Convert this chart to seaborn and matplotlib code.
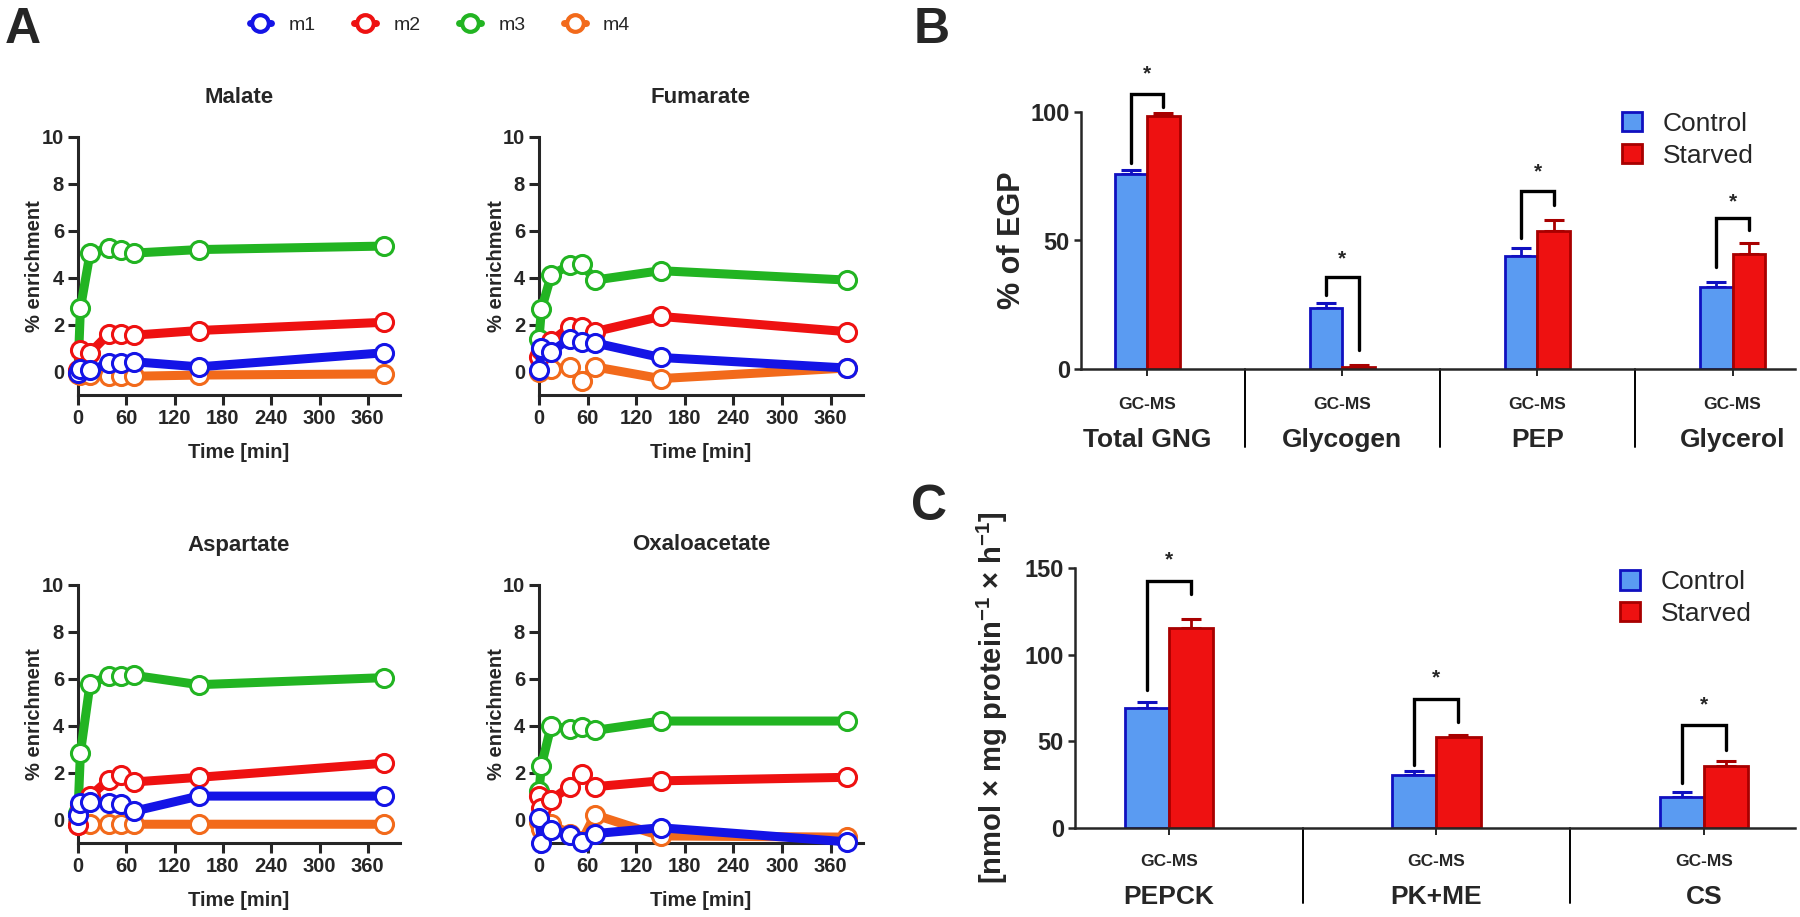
import numpy as np
import pandas as pd
import matplotlib
matplotlib.use('Agg')
import matplotlib.pyplot as plt
import matplotlib.transforms as mtransforms
from matplotlib.lines import Line2D
from matplotlib.patches import Patch
import seaborn as sns

sns.set_style('ticks')
plt.rcParams['font.family'] = ['Liberation Sans', 'DejaVu Sans']
plt.rcParams['font.weight'] = 'bold'
plt.rcParams['mathtext.fontset'] = 'custom'
plt.rcParams['mathtext.rm'] = 'Liberation Sans'
plt.rcParams['mathtext.bf'] = 'Liberation Sans:bold'

# ---------------- data: panel A ----------------
time_min = [0, 3, 15, 38, 53, 69, 150, 380]
isotopologues = ['m1', 'm2', 'm3', 'm4']

malate_m1 = [-0.05, 0.1, 0.05, 0.35, 0.35, 0.42, 0.2, 0.8]
malate_m2 = [0.05, 0.9, 0.8, 1.6, 1.6, 1.55, 1.75, 2.1]
malate_m3 = [0.0, 2.7, 5.05, 5.25, 5.2, 5.05, 5.2, 5.35]
malate_m4 = [-0.1, -0.15, -0.15, -0.2, -0.2, -0.2, -0.15, -0.1]

fumarate_m1 = [0.05, 1.0, 0.85, 1.4, 1.25, 1.22, 0.6, 0.15]
fumarate_m2 = [0.6, 0.9, 1.3, 1.9, 1.9, 1.7, 2.35, 1.7]
fumarate_m3 = [1.4, 2.65, 4.1, 4.55, 4.6, 3.9, 4.3, 3.9]
fumarate_m4 = [0.0, 0.05, 0.1, 0.2, -0.4, 0.2, -0.3, 0.15]

aspartate_m1 = [0.2, 0.7, 0.75, 0.7, 0.65, 0.35, 1.0, 1.0]
aspartate_m2 = [-0.25, 0.6, 1.0, 1.7, 1.9, 1.6, 1.8, 2.4]
aspartate_m3 = [0.3, 2.85, 5.8, 6.1, 6.1, 6.15, 5.75, 6.05]
aspartate_m4 = [-0.25, -0.2, -0.2, -0.2, -0.2, -0.2, -0.2, -0.2]

oxaloacetate_m1 = [0.05, -1.0, -0.45, -0.65, -0.95, -0.6, -0.35, -0.95]
oxaloacetate_m2 = [1.0, 0.5, 0.85, 1.4, 1.95, 1.4, 1.65, 1.8]
oxaloacetate_m3 = [1.2, 2.3, 4.0, 3.85, 3.95, 3.8, 4.2, 4.2]
oxaloacetate_m4 = [-0.1, -0.4, -0.2, -0.6, -0.9, 0.2, -0.7, -0.75]

metabolites = ['Malate', 'Fumarate', 'Aspartate', 'Oxaloacetate']
metabolite_series = {
    'Malate': [malate_m1, malate_m2, malate_m3, malate_m4],
    'Fumarate': [fumarate_m1, fumarate_m2, fumarate_m3, fumarate_m4],
    'Aspartate': [aspartate_m1, aspartate_m2, aspartate_m3, aspartate_m4],
    'Oxaloacetate': [oxaloacetate_m1, oxaloacetate_m2, oxaloacetate_m3, oxaloacetate_m4],
}
time_ticks = [0, 60, 120, 180, 240, 300, 360]
enrich_ticks = [0, 2, 4, 6, 8, 10]

# ---------------- data: panel B ----------------
groups = ['Control', 'Starved']
categories_B = ['Total GNG', 'Glycogen', 'PEP', 'Glycerol']
control_B = [75.8, 23.8, 44.0, 31.8]
control_B_err = [1.5, 1.8, 3.0, 2.0]
starved_B = [98.5, 0.8, 53.8, 44.8]
starved_B_err = [1.0, 0.8, 4.0, 4.3]
sig_B_top = [107, 35.8, 69.4, 58.7]
sig_B_left = [80, 28.8, 51, 39.8]
sig_B_right = [102, 7.4, 63.8, 54]
sig_B_star = [115, 43, 76.8, 65]
yticks_B = [0, 50, 100]

# ---------------- data: panel C ----------------
categories_C = ['PEPCK', 'PK+ME', 'CS']
control_C = [69.2, 30.6, 18.0]
control_C_err = [3.5, 2.0, 2.5]
starved_C = [115.5, 52.4, 35.8]
starved_C_err = [5.0, 1.3, 3.0]
sig_C_top = [142.6, 74.4, 59.4]
sig_C_left = [79.6, 36.4, 25.9]
sig_C_right = [135, 61.3, 45]
sig_C_star = [154.6, 86.5, 71]
yticks_C = [0, 50, 100, 150]
method_label = 'GC-MS'

# ---------------- styling ----------------
iso_colors = {'m1': '#1414E6', 'm2': '#EE1111', 'm3': '#22B422', 'm4': '#F26A1B'}
draw_order = ['m3', 'm4', 'm2', 'm1']
ctrl_fill, ctrl_edge = '#5A9BF2', '#1010C0'
starv_fill, starv_edge = '#EE1111', '#A80000'

W, H = 1800, 917
fig = plt.figure(figsize=(W / 100, H / 100), dpi=100)


def add_ax(l, t, r, b):
    return fig.add_axes([l / W, 1 - b / H, (r - l) / W, (b - t) / H])


boxes_A = {
    'Malate': (78, 137, 400, 395),
    'Fumarate': (539, 137, 863, 395),
    'Aspartate': (78, 585, 400, 843),
    'Oxaloacetate': (539, 585, 863, 843),
}

for met in metabolites:
    l, t, r, b = boxes_A[met]
    ax = add_ax(l, t, r, b)
    wpx, hpx = r - l, b - t
    rows = []
    for iso, vals in zip(isotopologues, metabolite_series[met]):
        for tt, v in zip(time_min, vals):
            rows.append((tt, v, iso))
    df = pd.DataFrame(rows, columns=['Time', 'Enrichment', 'Iso'])
    for z, iso in enumerate(draw_order):
        c = iso_colors[iso]
        sns.lineplot(data=df[df['Iso'] == iso], x='Time', y='Enrichment', color=c,
                     marker='o', markersize=13, markerfacecolor='white',
                     markeredgecolor=c, markeredgewidth=2.2, linewidth=6.5,
                     ax=ax, zorder=3 + z, clip_on=False, legend=False)
    ax.set_xlim(0, 400)
    ax.set_ylim(-1, 10)
    ax.set_xticks(time_ticks)
    ax.set_yticks(enrich_ticks)
    for s in ['top', 'right']:
        ax.spines[s].set_visible(False)
    for s in ['left', 'bottom']:
        ax.spines[s].set_linewidth(2.2)
    ax.tick_params(direction='out', length=7, width=2.2, labelsize=14.5, pad=3)
    for lbl in ax.get_xticklabels() + ax.get_yticklabels():
        lbl.set_fontweight('bold')
    ax.set_xlabel('Time [min]', fontsize=14.5, fontweight='bold')
    ax.xaxis.set_label_coords(0.5, -57 / hpx)
    ax.xaxis.label.set_va('center')
    ax.set_ylabel('% enrichment', fontsize=14.5, fontweight='bold')
    ax.yaxis.set_label_coords(-43 / wpx, 0.5)
    ax.yaxis.label.set_va('center')
    ax.text(0.5, 1 + 40 / hpx, met, transform=ax.transAxes, ha='center', va='center',
            fontsize=16, fontweight='bold')

legend_handles = [Line2D([0], [0], color=iso_colors[i], marker='o', markersize=12,
                         markerfacecolor='white', markeredgecolor=iso_colors[i],
                         markeredgewidth=3, linewidth=5) for i in isotopologues]
fig.legend(legend_handles, isotopologues, loc='center', bbox_to_anchor=(440 / W, 1 - 25 / H),
           ncol=4, frameon=False, handlelength=1.1, handletextpad=0.9, columnspacing=2.0,
           prop={'size': 14, 'weight': 'normal'})


def bar_panel(box, cats, ctrl, ctrl_err, starv, starv_err, top, left, right, star,
              yticks, ylim, xlim, ylabel, ylabel_fs, leg_anchor, sep_depth_px,
              method_y_px, cat_y_px, ylabel_x_px):
    l, t, r, b = box
    ax = add_ax(l, t, r, b)
    wpx, hpx = r - l, b - t
    df = pd.DataFrame({'Category': cats * 2,
                       'Group': [groups[0]] * len(cats) + [groups[1]] * len(cats),
                       'Value': list(ctrl) + list(starv)})
    sns.barplot(data=df, x='Category', y='Value', hue='Group', order=cats,
                palette={'Control': ctrl_fill, 'Starved': starv_fill}, width=0.33,
                errorbar=None, saturation=1, linewidth=2, ax=ax, legend=False, zorder=2)
    for cont, ec, means, errs in zip(ax.containers, [ctrl_edge, starv_edge],
                                     [ctrl, starv], [ctrl_err, starv_err]):
        xs = []
        for p in cont:
            p.set_edgecolor(ec)
            xs.append(p.get_x() + p.get_width() / 2)
        ax.errorbar(xs, means, yerr=[np.zeros(len(errs)), errs], fmt='none', ecolor=ec,
                    elinewidth=2, capsize=7, capthick=2.2, zorder=1)
    bw = ax.containers[0][0].get_width()
    for i in range(len(cats)):
        xl, xr = i - bw / 2, i + bw / 2
        ax.plot([xl, xl, xr, xr], [left[i], top[i], top[i], right[i]], color='black',
                lw=2.4, clip_on=False, solid_joinstyle='miter')
        ax.text(i, star[i], '*', ha='center', va='center', fontsize=15, fontweight='bold')
    ax.set_ylim(*ylim)
    ax.set_xlim(*xlim)
    depth = sep_depth_px / hpx * (ylim[1] - ylim[0])
    for k in range(len(cats) - 1):
        ax.plot([k + 0.5, k + 0.5], [0, -depth], color='black', lw=1.4, clip_on=False)
    ax.set_yticks(yticks)
    ax.set_xticks(range(len(cats)))
    ax.set_xticklabels([method_label] * len(cats), fontsize=12.5, fontweight='bold')
    for s in ['top', 'right']:
        ax.spines[s].set_visible(False)
    for s in ['left', 'bottom']:
        ax.spines[s].set_linewidth(1.8)
    ax.tick_params(axis='y', direction='out', length=5, width=1.8, labelsize=17, pad=3)
    ax.tick_params(axis='x', direction='out', length=5, width=1.4, pad=method_y_px - 8)
    for lbl in ax.get_yticklabels():
        lbl.set_fontweight('bold')
    tr = mtransforms.blended_transform_factory(ax.transData, ax.transAxes)
    for i, c in enumerate(cats):
        ax.text(i, -cat_y_px / hpx, c, transform=tr, ha='center', va='center',
                fontsize=19, fontweight='bold')
    ax.set_xlabel('')
    ax.set_ylabel(ylabel, fontsize=ylabel_fs, fontweight='bold')
    ax.yaxis.set_label_coords(-ylabel_x_px / wpx, 0.5)
    ax.yaxis.label.set_va('center')
    handles = [Patch(facecolor=ctrl_fill, edgecolor=ctrl_edge, linewidth=2, label='Control'),
               Patch(facecolor=starv_fill, edgecolor=starv_edge, linewidth=2, label='Starved')]
    ax.legend(handles=handles, loc='upper left', bbox_to_anchor=leg_anchor, frameon=False,
              handlelength=0.75, handleheight=0.75, handletextpad=0.8, labelspacing=0.3,
              borderpad=0, borderaxespad=0, prop={'size': 19, 'weight': 'normal'})
    return ax


bar_panel((1081, 112, 1795, 369), categories_B, control_B, control_B_err, starved_B,
          starved_B_err, sig_B_top, sig_B_left, sig_B_right, sig_B_star, yticks_B,
          (0, 100), (-0.34, 3.32), '% of EGP', 22, ((1622 - 1081) / 714, 1.0), 78,
          23, 71, 69)

bar_panel((1075, 568, 1795, 828), categories_C, control_C, control_C_err, starved_C,
          starved_C_err, sig_C_top, sig_C_left, sig_C_right, sig_C_star, yticks_C,
          (0, 150), (-0.35, 2.34),
          r'[nmol × mg protein$^{\mathbf{-1}}$ × h$^{\mathbf{-1}}$]', 21,
          ((1620 - 1075) / 720, 0.992), 75, 22, 69, 83)

fig.text(5 / W, 1 - 30 / H, 'A', fontsize=36, fontweight='bold', ha='left', va='center')
fig.text(914 / W, 1 - 30 / H, 'B', fontsize=36, fontweight='bold', ha='left', va='center')
fig.text(911 / W, 1 - 507 / H, 'C', fontsize=36, fontweight='bold', ha='left', va='center')

fig.savefig('out.png', dpi=100, facecolor='white')
